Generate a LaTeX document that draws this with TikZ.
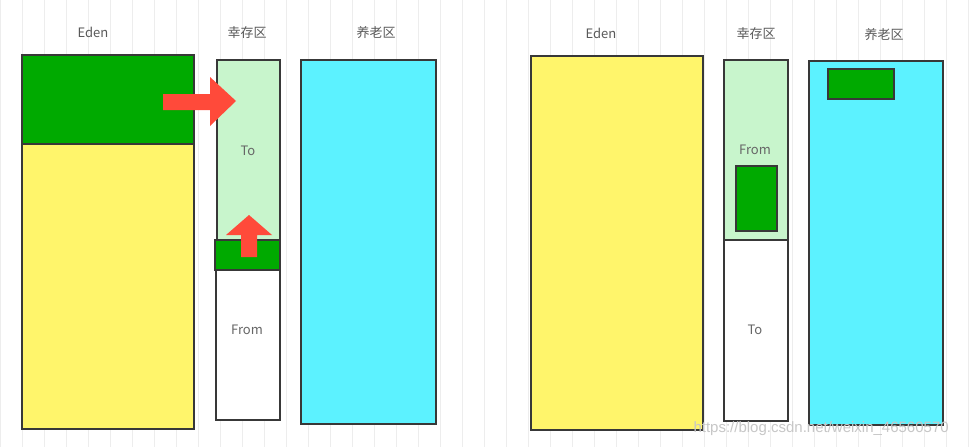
\documentclass[tikz,border=0pt]{standalone}
\usepackage{fontspec}
\newfontfamily\cjk{Noto Sans CJK SC}
\begin{document}
\begin{tikzpicture}[x=1pt,y=-1pt,
  box/.style={draw=black!78,line width=2pt},
  lbl/.style={font=\cjk\fontsize{13}{15}\selectfont,text=black!65},
  inlbl/.style={font=\cjk\fontsize{13}{15}\selectfont,text=black!60}]
\definecolor{gcol}{HTML}{00AA00}
\definecolor{ycol}{HTML}{FFF56B}
\definecolor{ccol}{HTML}{5CF2FF}
\definecolor{lgcol}{HTML}{C8F5CC}
\definecolor{rcol}{HTML}{FF4A3A}
\useasboundingbox (0,0) rectangle (972,447);
\fill[white] (0,0) rectangle (972,447);
\draw[black!7,line width=0.8pt,step=22] (0,0) grid (972,447);
% ---- left ----
\node[lbl] (edenL) at (93,32) {Eden};
\node[lbl] (survL) at (247,33) {幸存区};
\node[lbl] (oldL) at (376,33) {养老区};
\filldraw[box,fill=ycol] (22,55) rectangle (194,429);
\filldraw[box,fill=gcol] (22,55) rectangle (194,144);
\filldraw[box,fill=white] (216,240) rectangle (280,420);
\filldraw[box,fill=lgcol] (217,60) rectangle (280,240);
\filldraw[box,fill=gcol] (215,240) rectangle (280,270);
\filldraw[box,fill=ccol] (301,60) rectangle (436,424);
\node[inlbl] (toL) at (248,151) {To};
\node[inlbl] (fromL) at (247,330) {From};
\fill[rcol] (163,94) -- (210,94) -- (210,77) -- (236,101) -- (210,126) -- (210,110) -- (163,110) -- cycle;
\fill[rcol] (241,257) -- (241,235) -- (226,235) -- (249,215) -- (272,235) -- (257,235) -- (257,257) -- cycle;
% ---- right ----
\node[lbl] (edenR) at (601,33) {Eden};
\node[lbl] (survR) at (756,34) {幸存区};
\node[lbl] (oldR) at (884,35) {养老区};
\filldraw[box,fill=ycol] (531,56) rectangle (703,430);
\filldraw[box,fill=white] (724,240) rectangle (788,421);
\filldraw[box,fill=lgcol] (724,60) rectangle (788,240);
\filldraw[box,fill=gcol] (736,166) rectangle (777,231);
\filldraw[box,fill=ccol] (809,61) rectangle (943,425);
\filldraw[box,fill=gcol] (828,69) rectangle (894,99);
\node[inlbl] (fromR) at (755,150) {From};
\node[inlbl] (toR) at (755,330) {To};
\node[font=\fontspec{Liberation Sans}\fontsize{15}{17}\selectfont,text=black!22,anchor=west] (wm) at (690,429) {https://blog.csdn.net/weixin\_46560570};
\end{tikzpicture}
\end{document}
